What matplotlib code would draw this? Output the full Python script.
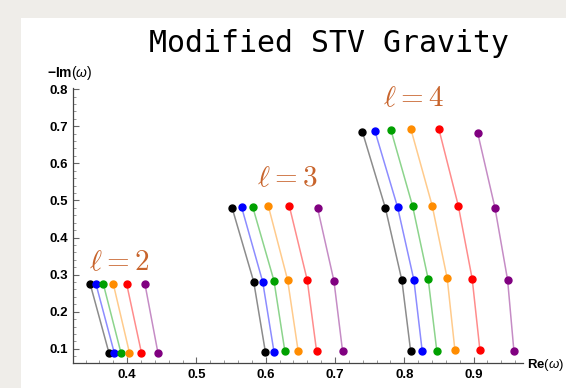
import matplotlib.pyplot as plt
import matplotlib.ticker as ticker
from matplotlib.patches import Rectangle

# quasinormal frequencies, one list per model colour, rows go n = 0,1,2,...
colors = ['black', 'blue', '#00a000', '#ff8c00', 'red', 'purple']

# l = 2 (n = 0, 1)
re_l2 = [
    [0.3737, 0.3467],
    [0.3814, 0.3549],
    [0.3910, 0.3655],
    [0.4033, 0.3799],
    [0.4206, 0.3992],
    [0.4444, 0.4257],
]
im_l2 = [
    [0.0890, 0.2739],
    [0.0890, 0.2748],
    [0.0892, 0.2750],
    [0.0892, 0.2752],
    [0.0892, 0.2752],
    [0.0892, 0.2740],
]

# l = 3 (n = 0, 1, 2)
re_l3 = [
    [0.5994, 0.5826, 0.5516],
    [0.6119, 0.5956, 0.5652],
    [0.6277, 0.6119, 0.5811],
    [0.6469, 0.6316, 0.6036],
    [0.6735, 0.6599, 0.6339],
    [0.7110, 0.6985, 0.6749],
]
im_l3 = [
    [0.0927, 0.2813, 0.4791],
    [0.0925, 0.2810, 0.4816],
    [0.0930, 0.2837, 0.4833],
    [0.0930, 0.2856, 0.4860],
    [0.0930, 0.2856, 0.4860],
    [0.0930, 0.2829, 0.4790],
]

# l = 4 (n = 0, 1, 2, 3)
re_l4 = [
    [0.8092, 0.7966, 0.7727, 0.7397],
    [0.8259, 0.8139, 0.7904, 0.7576],
    [0.8470, 0.8346, 0.8120, 0.7807],
    [0.8731, 0.8620, 0.8403, 0.8096],
    [0.9092, 0.8981, 0.8780, 0.8500],
    [0.9583, 0.9492, 0.9309, 0.9059],
]
im_l4 = [
    [0.0942, 0.2843, 0.4799, 0.6839],
    [0.0942, 0.2856, 0.4816, 0.6874],
    [0.0945, 0.2875, 0.4851, 0.6901],
    [0.0969, 0.2902, 0.4859, 0.6920],
    [0.0969, 0.2883, 0.4859, 0.6920],
    [0.0942, 0.2856, 0.4806, 0.6828],
]

labels = [r'$\ell = 2$', r'$\ell = 3$', r'$\ell = 4$']
label_pos = [(0.388, 0.334), (0.631, 0.561), (0.8125, 0.776)]

plt.rcParams['font.family'] = ['Liberation Sans', 'DejaVu Sans']
plt.rcParams['mathtext.fontset'] = 'custom'
plt.rcParams['mathtext.rm'] = 'Liberation Sans'
plt.rcParams['mathtext.it'] = 'Liberation Sans:italic'
plt.rcParams['mathtext.bf'] = 'Liberation Sans:bold'

fig = plt.figure(figsize=(5.66, 3.88), dpi=100)
fig.patch.set_facecolor('#efede9')
fig.patches.append(Rectangle((21 / 566, 0), 1, 1 - 18 / 388, transform=fig.transFigure,
                             facecolor='white', edgecolor='none', zorder=-10))

ax = fig.add_axes([0.1295, 0.0637, 0.794, 0.7095])
ax.set_facecolor('none')

for re_all, im_all in [(re_l2, im_l2), (re_l3, im_l3), (re_l4, im_l4)]:
    for c, xs, ys in zip(colors, re_all, im_all):
        ax.plot(xs, ys, color=c, lw=1.1, alpha=0.45, zorder=2)
        ax.plot(xs, ys, ls='none', marker='o', ms=5, color=c, zorder=3)

for txt, (lx, ly) in zip(labels, label_pos):
    ax.text(lx, ly, txt, color='#c8642c', fontsize=21, ha='center', va='center',
            math_fontfamily='cm')

ax.set_xlim(0.3222, 0.971)
ax.set_ylim(0.061, 0.803)

ax.spines['top'].set_visible(False)
ax.spines['right'].set_visible(False)
for s in ['left', 'bottom']:
    ax.spines[s].set_color('#444444')
    ax.spines[s].set_linewidth(0.9)

ax.xaxis.set_major_locator(ticker.MultipleLocator(0.1))
ax.xaxis.set_minor_locator(ticker.MultipleLocator(0.02))
ax.yaxis.set_major_locator(ticker.MultipleLocator(0.1))
ax.yaxis.set_minor_locator(ticker.MultipleLocator(0.02))
ax.xaxis.set_major_formatter(ticker.FormatStrFormatter('%.1f'))
ax.yaxis.set_major_formatter(ticker.FormatStrFormatter('%.1f'))
ax.tick_params(which='major', direction='in', length=4, width=0.8, color='#666666',
               labelsize=9.5, pad=4)
ax.tick_params(which='minor', direction='in', length=2, width=0.6, color='#888888')
for lab in ax.get_xticklabels() + ax.get_yticklabels():
    lab.set_fontweight('bold')

fig.text(47 / 566, 1 - 73 / 388, r'$\mathbf{-Im}(\omega)$', fontsize=10,
         ha='left', va='center')
fig.text(527 / 566, 1 - 365 / 388, r'$\mathbf{Re}(\omega)$', fontsize=9.5,
         ha='left', va='center')
fig.text(329 / 566, 1 - 44 / 388, 'Modified STV Gravity', family='DejaVu Sans Mono',
         fontsize=21.5, ha='center', va='center')

fig.savefig('out.png', dpi=100)
